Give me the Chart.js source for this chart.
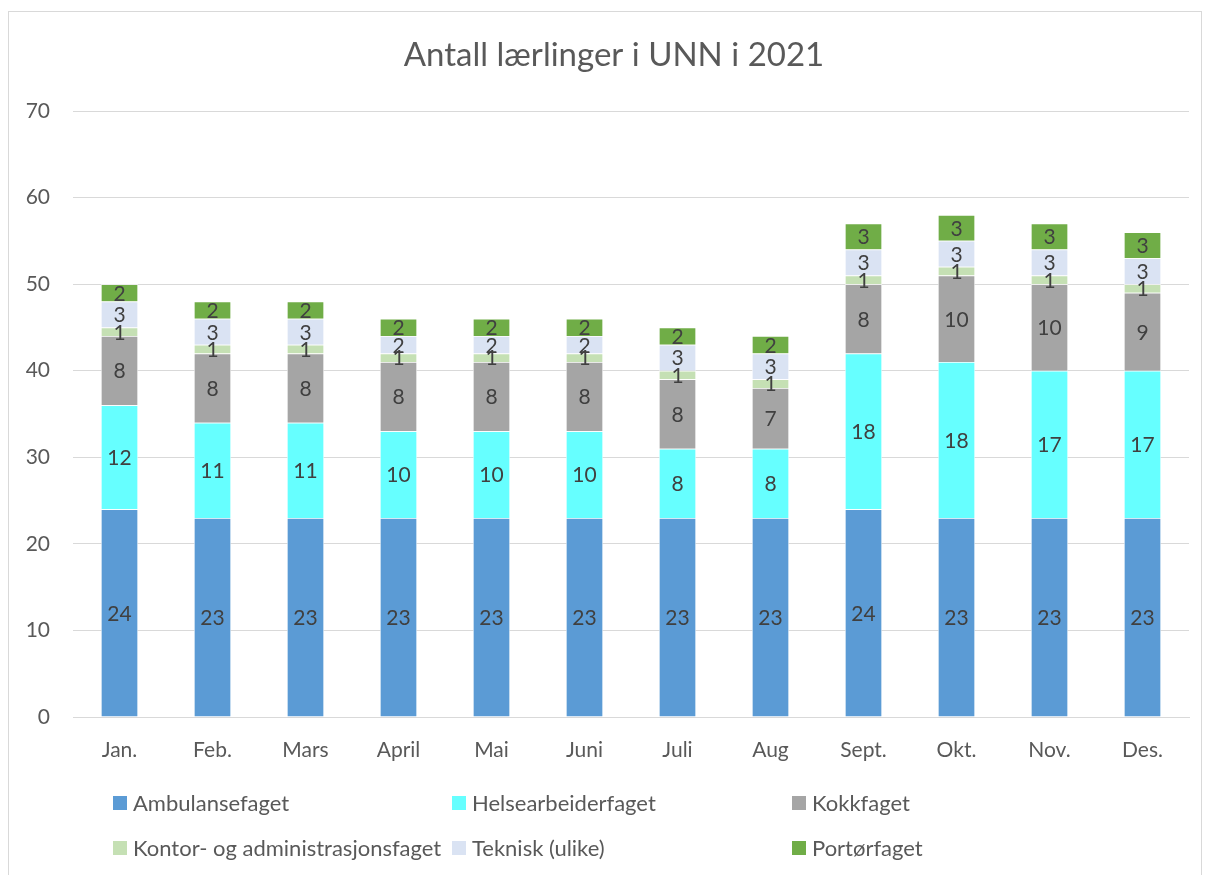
<!DOCTYPE html>
<html>
<head>
<meta charset="utf-8">
<script src="https://cdn.jsdelivr.net/npm/chart.js@4"></script>
<style>
  body { margin: 0; background: #fff; }
  #frame { position: absolute; left: 8px; top: 11px; width: 1192px; height: 875px; border: 1px solid #d9d9d9; }
</style>
</head>
<body>
<div id="frame"><canvas id="myChart" width="1192" height="875"></canvas></div>
<script>
var months = ['Jan.', 'Feb.', 'Mars', 'April', 'Mai', 'Juni', 'Juli', 'Aug', 'Sept.', 'Okt.', 'Nov.', 'Des.'];

var ambulanse = [24, 23, 23, 23, 23, 23, 23, 23, 24, 23, 23, 23];
var helsearbeider = [12, 11, 11, 10, 10, 10, 8, 8, 18, 18, 17, 17];
var kokk = [8, 8, 8, 8, 8, 8, 8, 7, 8, 10, 10, 9];
var kontor = [1, 1, 1, 1, 1, 1, 1, 1, 1, 1, 1, 1];
var teknisk = [3, 3, 3, 2, 2, 2, 3, 3, 3, 3, 3, 3];
var portor = [2, 2, 2, 2, 2, 2, 2, 2, 3, 3, 3, 3];

var seriesNames = ['Ambulansefaget', 'Helsearbeiderfaget', 'Kokkfaget',
  'Kontor- og administrasjonsfaget', 'Teknisk (ulike)', 'Portørfaget'];
var seriesColors = ['#5b9bd5', '#66ffff', '#a5a5a5', '#c5e0b4', '#dae3f3', '#70ad47'];
var seriesValues = [ambulanse, helsearbeider, kokk, kontor, teknisk, portor];

var fontFam = 'Lato, "Open Sans", sans-serif';
var textCol = '#595959';

// values inside the bars
var labelPlugin = {
  id: 'barLabels',
  afterDatasetsDraw: function(chart) {
    var ctx = chart.ctx;
    ctx.save();
    ctx.font = '21px ' + fontFam;
    ctx.fillStyle = '#404040';
    ctx.textAlign = 'center';
    ctx.textBaseline = 'middle';
    chart.data.datasets.forEach(function(ds, i) {
      chart.getDatasetMeta(i).data.forEach(function(bar, j) {
        ctx.fillText(ds.data[j], bar.x, (bar.y + bar.base) / 2 + 1);
      });
    });
    ctx.restore();
  }
};

// title and 3-column legend
var extrasPlugin = {
  id: 'extras',
  afterDraw: function(chart) {
    var ctx = chart.ctx;
    ctx.save();
    ctx.fillStyle = textCol;
    ctx.textAlign = 'center';
    ctx.textBaseline = 'middle';
    ctx.font = '33px ' + fontFam;
    ctx.fillText('Antall lærlinger i UNN i 2021', 605, 43);

    var colX = [104, 443, 783];
    var rowY = [791, 836];
    ctx.font = '22px ' + fontFam;
    ctx.textAlign = 'left';
    chart.data.datasets.forEach(function(ds, i) {
      var x = colX[i % 3], y = rowY[Math.floor(i / 3)];
      ctx.fillStyle = ds.backgroundColor;
      ctx.fillRect(x, y - 7, 14, 14);
      ctx.fillStyle = textCol;
      ctx.fillText(ds.label, x + 20, y + 1);
    });
    ctx.restore();
  }
};

var ctx = document.getElementById('myChart');
var myChart = new Chart(ctx, {
  type: 'bar',
  data: {
    labels: months,
    datasets: seriesNames.map(function(name, i) {
      return {
        label: name,
        data: seriesValues[i],
        backgroundColor: seriesColors[i],
        borderColor: '#ffffff',
        borderWidth: 0.75,
        categoryPercentage: 1,
        barPercentage: 0.4
      };
    })
  },
  options: {
    responsive: false,
    animation: false,
    layout: { padding: { top: 99, right: 12, bottom: 120, left: 0 } },
    plugins: {
      legend: { display: false },
      title: { display: false },
      tooltip: { enabled: false }
    },
    scales: {
      x: {
        stacked: true,
        grid: { display: false, drawTicks: false },
        border: { color: '#d9d9d9' },
        ticks: { color: textCol, font: { size: 21, family: fontFam }, padding: 21 },
        afterFit: function(scale) { scale.height = 50; }
      },
      y: {
        stacked: true,
        min: 0,
        max: 70,
        grid: { color: '#d9d9d9', drawTicks: false },
        border: { display: false },
        ticks: { stepSize: 10, color: textCol, font: { size: 21, family: fontFam }, padding: 23 },
        afterFit: function(scale) { scale.width = 64; }
      }
    }
  },
  plugins: [labelPlugin, extrasPlugin]
});
</script>
</body>
</html>
